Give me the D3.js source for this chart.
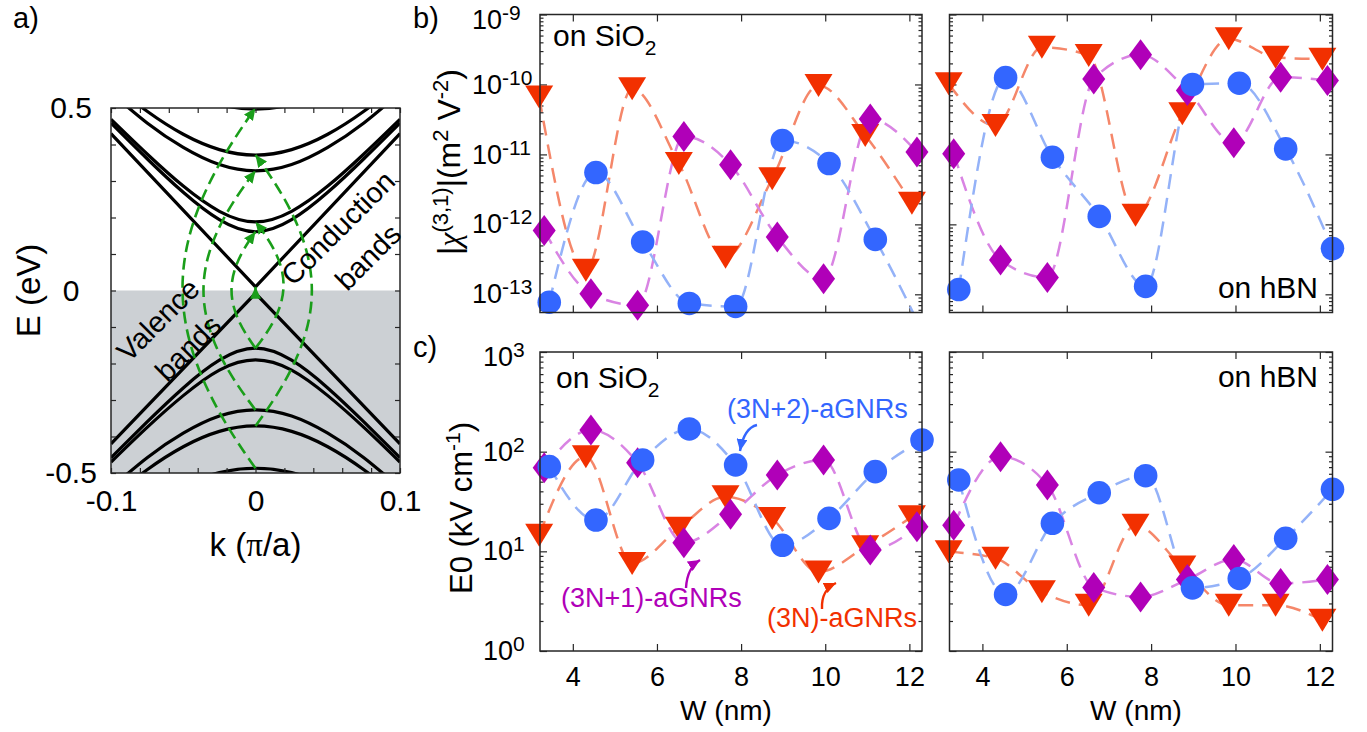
<!DOCTYPE html>
<html>
<head>
<meta charset="utf-8">
<script src="https://cdn.jsdelivr.net/npm/d3@7"></script>
<style>
  body { margin: 0; background: #fff; }
  svg { display: block; font-family: "Liberation Sans", Arial, sans-serif; }
</style>
</head>
<body>
<svg id="fig" width="1367" height="732"></svg>
<script>
// ---- panel a: band structure ----
const kSamples = [-0.1, -0.075, -0.05, -0.025, 0, 0.025, 0.05, 0.075, 0.1]
const diracK = [-0.1, 0, 0.1]
const diracCond = [0.43, 0.01, 0.43]
const diracVal = [-0.42, -0.008, -0.42]
const condBands = [
  [0.459, 0.361, 0.269, 0.194, 0.161, 0.194, 0.269, 0.361, 0.459],
  [0.469, 0.374, 0.286, 0.217, 0.188, 0.217, 0.286, 0.374, 0.469],
  [0.542, 0.459, 0.392, 0.345, 0.328, 0.345, 0.392, 0.459, 0.542],
  [0.568, 0.491, 0.428, 0.386, 0.371, 0.386, 0.428, 0.491, 0.568],
  [0.657, 0.593, 0.542, 0.509, 0.497, 0.509, 0.542, 0.593, 0.657]
]
const valBands = [
  [-0.458, -0.360, -0.267, -0.191, -0.158, -0.191, -0.267, -0.360, -0.458],
  [-0.470, -0.375, -0.288, -0.218, -0.190, -0.218, -0.288, -0.375, -0.470],
  [-0.541, -0.458, -0.391, -0.344, -0.327, -0.344, -0.391, -0.458, -0.541],
  [-0.568, -0.491, -0.428, -0.386, -0.371, -0.386, -0.428, -0.491, -0.568],
  [-0.650, -0.585, -0.533, -0.499, -0.487, -0.499, -0.533, -0.585, -0.650]
]
// optical transitions at k = 0 : from valence max to conduction min
const transFrom = [-0.487, -0.327, -0.158, -0.371, -0.158, -0.008]
const transTo = [0.5, 0.328, 0.161, 0.371, 0.188, 0.01]
const transSide = [-1, -1, -1, 1, 1, 0]
const transWidth = [0.0505, 0.036, 0.0166, 0.039, 0.0194, 0]
const kTicks = [-0.1, -0.08, -0.06, -0.04, -0.02, 0, 0.02, 0.04, 0.06, 0.08, 0.1]
const kLabels = ['-0.1', '0', '0.1']
const eTicks = [-0.5, -0.4, -0.3, -0.2, -0.1, 0, 0.1, 0.2, 0.3, 0.4, 0.5]
const eLabels = ['-0.5', '0', '0.5']

// ---- panels b, c: ribbon widths (nm) ----
const W3N = [3.20, 4.31, 5.41, 6.52, 7.63, 8.74, 9.84, 10.95, 12.06]
const W3N1 = [3.32, 4.43, 5.54, 6.64, 7.75, 8.86, 9.96, 11.07, 12.18]
const W3N2 = [3.44, 4.55, 5.66, 6.77, 7.87, 8.98, 10.09, 11.19, 12.30]
const wTicks = [4, 6, 8, 10, 12]

// |chi(3,1)| (m^2 V^-2)
const chiSiO2_3N = [6.6e-11, 2.2e-13, 8.7e-11, 7.4e-12, 3.4e-13, 4.5e-12, 9.7e-11, 1.87e-11, 2.0e-12]
const chiSiO2_3N1 = [8.2e-13, 1.02e-13, 7.0e-14, 1.81e-11, 7.1e-12, 6.6e-13, 1.67e-13, 3.2e-11, 1.08e-11]
const chiSiO2_3N2 = [7.7e-14, 5.5e-12, 5.6e-13, 7.4e-14, 6.7e-14, 1.58e-11, 7.4e-12, 6.1e-13, 3.0e-14]
const chiHBN_3N = [1.02e-10, 2.6e-11, 3.4e-10, 2.6e-10, 1.35e-12, 3.8e-11, 4.5e-10, 2.45e-10, 2.3e-10]
const chiHBN_3N1 = [1.02e-11, 3.1e-13, 1.74e-13, 1.2e-10, 2.65e-10, 8.2e-11, 1.47e-11, 1.27e-10, 1.14e-10]
const chiHBN_3N2 = [1.17e-13, 1.25e-10, 9.1e-12, 1.3e-12, 1.3e-13, 1.0e-10, 1.04e-10, 1.2e-11, 4.5e-13]

// E0 (kV cm^-1)
const e0SiO2_3N = [14.5, 89, 7.56, 17, 35.3, 21.4, 6.2, 11.1, 22.2]
const e0SiO2_3N1 = [69, 165, 77.5, 12.2, 23.5, 58.3, 82.6, 10.3, 17.6]
const e0SiO2_3N2 = [70.7, 20.6, 82.6, 169, 73.5, 11.5, 21.4, 63, 131]
const e0HBN_3N = [9.9, 8.5, 3.92, 2.88, 18.3, 6.98, 2.88, 2.88, 2.03]
const e0HBN_3N1 = [18.3, 89, 46.3, 4.34, 3.49, 5.22, 8.3, 4.76, 5.22]
const e0HBN_3N2 = [52, 3.69, 19.1, 38.7, 57.4, 4.3, 5.34, 13.5, 41.9]

// ---- styles ----
const ink = '#262626'
const green = '#1a9e1a'
const fam = [
  { key: '3N', w: W3N, mark: '#f23000', line: '#f5876a', shape: 'tri' },
  { key: '3N1', w: W3N1, mark: '#b000b8', line: '#d984e3', shape: 'dia' },
  { key: '3N2', w: W3N2, mark: '#3366ff', line: '#94b2f8', shape: 'circ' }
]

const svg = d3.select('#fig')
const defs = svg.append('defs')

function arrowMarker (id, color, len, wid) {
  defs.append('marker')
    .attr('id', id)
    .attr('markerUnits', 'userSpaceOnUse')
    .attr('viewBox', `0 0 ${len} ${wid}`)
    .attr('refX', len).attr('refY', wid / 2)
    .attr('markerWidth', len).attr('markerHeight', wid)
    .attr('orient', 'auto')
    .append('path')
    .attr('d', `M0,0 L${len},${wid / 2} L0,${wid} Z`)
    .attr('fill', color)
}
arrowMarker('ag', green, 12, 11)
arrowMarker('ab', '#3366ff', 12, 11)
arrowMarker('am', '#b000b8', 12, 11)
arrowMarker('ar', '#f23000', 12, 11)

function styleAxis (sel, fs) {
  sel.select('.domain').remove()
  sel.selectAll('.tick line').attr('stroke', ink).attr('stroke-width', 1.2)
  sel.selectAll('.tick text').attr('fill', '#000').attr('font-size', fs)
    .attr('font-family', '"Liberation Sans", Arial, sans-serif')
}

function clipRect (id, x, y) {
  defs.append('clipPath').attr('id', id).append('rect')
    .attr('x', x.range()[0]).attr('y', y.range()[1])
    .attr('width', x.range()[1] - x.range()[0])
    .attr('height', y.range()[0] - y.range()[1])
}

function frame (g, x, y) {
  g.append('rect')
    .attr('x', x.range()[0]).attr('y', y.range()[1])
    .attr('width', x.range()[1] - x.range()[0])
    .attr('height', y.range()[0] - y.range()[1])
    .attr('fill', 'none').attr('stroke', ink).attr('stroke-width', 1.5)
}

const labelOf = (list) => d => list.find(s => Math.abs(+s - d) < 1e-9) || ''

/**
 * Panel a
 */
{
  const x = d3.scaleLinear().domain([-0.1, 0.1]).range([111, 400])
  const y = d3.scaleLinear().domain([-0.5, 0.5]).range([473, 108])
  const g = svg.append('g')
  clipRect('clipA', x, y)
  const body = g.append('g').attr('clip-path', 'url(#clipA)')

  body.append('rect')
    .attr('x', x(-0.1)).attr('y', y(0))
    .attr('width', x(0.1) - x(-0.1)).attr('height', y(-0.5) - y(0))
    .attr('fill', '#ccd0d4')

  const smooth = d3.line().x((d, i) => x(kSamples[i])).y(d => y(d)).curve(d3.curveNatural)
  const straight = d3.line().x((d, i) => x(diracK[i])).y(d => y(d))
  condBands.concat(valBands).forEach(b => {
    body.append('path').attr('d', smooth(b))
      .attr('fill', 'none').attr('stroke', '#000').attr('stroke-width', 3.2)
  })
  ;[diracCond, diracVal].forEach(b => {
    body.append('path').attr('d', straight(b))
      .attr('fill', 'none').attr('stroke', '#000').attr('stroke-width', 3.2)
  })

  transFrom.forEach((e1, i) => {
    const x0 = x(0)
    const yb = y(e1)
    const yt = y(transTo[i])
    const c = (4 / 3) * (x(transWidth[i]) - x(0)) * transSide[i]
    const kk = 0.75 * (yb - yt) / 2
    const p = d3.path()
    p.moveTo(x0, yb)
    p.bezierCurveTo(x0 + c, yb - kk, x0 + c, yt + kk, x0, yt)
    body.append('path').attr('d', p.toString())
      .attr('fill', 'none').attr('stroke', green).attr('stroke-width', 2.6)
      .attr('stroke-dasharray', transSide[i] === 0 ? null : '12,6')
      .attr('marker-end', 'url(#ag)')
  })

  const ax = g.append('g').attr('transform', `translate(0,${y(-0.5)})`)
    .call(d3.axisBottom(x).tickValues(kTicks).tickSize(-5).tickSizeOuter(0)
      .tickPadding(17).tickFormat(labelOf(kLabels)))
  styleAxis(ax, 30)
  const axT = g.append('g').attr('transform', `translate(0,${y(0.5)})`)
    .call(d3.axisTop(x).tickValues(kTicks).tickSize(-5).tickSizeOuter(0).tickFormat(''))
  styleAxis(axT, 30)
  const ay = g.append('g').attr('transform', `translate(${x(-0.1)},0)`)
    .call(d3.axisLeft(y).tickValues(eTicks).tickSize(-5).tickSizeOuter(0)
      .tickPadding(40).tickFormat(labelOf(eLabels)))
  styleAxis(ay, 30)
  ay.selectAll('.tick text').attr('text-anchor', 'middle')
  const ayR = g.append('g').attr('transform', `translate(${x(0.1)},0)`)
    .call(d3.axisRight(y).tickValues(eTicks).tickSize(-5).tickSizeOuter(0).tickFormat(''))
  styleAxis(ayR, 30)
  frame(g, x, y)

  const kl = g.append('text').attr('x', x(0)).attr('y', 556)
    .attr('text-anchor', 'middle').attr('font-size', 33)
  kl.append('tspan').text('k (')
  kl.append('tspan').attr('font-family', '"Liberation Serif", serif').text('π')
  kl.append('tspan').text('/a)')
  g.append('text').attr('transform', `translate(40,${y(0)}) rotate(-90)`)
    .attr('text-anchor', 'middle').attr('font-size', 33).text('E (eV)')

  const rot = (t, cx, cy) => g.append('text')
    .attr('transform', `translate(${cx},${cy}) rotate(-45)`)
    .attr('text-anchor', 'middle').attr('dominant-baseline', 'central')
    .attr('font-size', 29).text(t)
  rot('Conduction', 338, 228)
  rot('bands', 368, 257)
  rot('Valence', 158, 320)
  rot('bands', 188, 348)

  g.append('text').attr('x', 13).attr('y', 28).attr('font-size', 29).text('a)')
}

/**
 * Panels b and c
 */
function logPanel ({ id, xr, yr, ydom, series, labelX, showYLabels, xLabels }) {
  const x = d3.scaleLinear().domain([3.22, 12.3]).range(xr)
  const y = d3.scaleLog().domain(ydom).range(yr)
  const g = svg.append('g')
  clipRect(id, x, y)

  const all = y.ticks()
  const majors = all.filter(d => Math.abs(Math.log10(d) - Math.round(Math.log10(d))) < 1e-6)
  const minors = all.filter(d => !majors.includes(d))
  const topMajor = d3.max(majors)

  const left = g.append('g').attr('transform', `translate(${xr[0]},0)`)
    .call(d3.axisLeft(y).tickValues(majors).tickSize(-7).tickSizeOuter(0)
      .tickFormat(showYLabels ? () => '10' : ''))
  styleAxis(left, 27)
  if (showYLabels) {
    left.selectAll('.tick text')
      .attr('text-anchor', 'start').attr('x', labelX - xr[0])
      .attr('dy', d => d === topMajor ? '0.5em' : '0.32em')
      .each(function (d) {
        d3.select(this).append('tspan').attr('dy', -9).attr('font-size', 21)
          .text(String(Math.round(Math.log10(d))))
      })
  }
  const leftMinor = g.append('g').attr('transform', `translate(${xr[0]},0)`)
    .call(d3.axisLeft(y).tickValues(minors).tickSize(-3.5).tickSizeOuter(0).tickFormat(''))
  styleAxis(leftMinor, 10)
  const right = g.append('g').attr('transform', `translate(${xr[1]},0)`)
    .call(d3.axisRight(y).tickValues(majors).tickSize(-7).tickSizeOuter(0).tickFormat(''))
  styleAxis(right, 10)
  const rightMinor = g.append('g').attr('transform', `translate(${xr[1]},0)`)
    .call(d3.axisRight(y).tickValues(minors).tickSize(-3.5).tickSizeOuter(0).tickFormat(''))
  styleAxis(rightMinor, 10)
  const bottom = g.append('g').attr('transform', `translate(0,${yr[0]})`)
    .call(d3.axisBottom(x).tickValues(wTicks).tickSize(-7).tickSizeOuter(0)
      .tickPadding(16).tickFormat(xLabels ? d3.format('d') : ''))
  styleAxis(bottom, 27)
  const top = g.append('g').attr('transform', `translate(0,${yr[1]})`)
    .call(d3.axisTop(x).tickValues(wTicks).tickSize(-7).tickSizeOuter(0).tickFormat(''))
  styleAxis(top, 10)

  const body = g.append('g').attr('clip-path', `url(#${id})`)
  const curve = d3.line().x(d => x(d.w)).y(d => y(d.v)).curve(d3.curveMonotoneX)
  series.forEach((vals, i) => {
    const f = fam[i]
    const pts = vals.map((v, j) => ({ w: f.w[j], v }))
    body.append('path').datum(pts).attr('d', curve)
      .attr('fill', 'none').attr('stroke', f.line).attr('stroke-width', 2.5)
      .attr('stroke-dasharray', '15,9')
  })
  const [lo, hi] = ydom
  series.forEach((vals, i) => {
    const f = fam[i]
    const pts = vals.map((v, j) => ({ w: f.w[j], v })).filter(d => d.v >= lo && d.v <= hi)
    const sel = g.append('g').selectAll('.m').data(pts).enter()
    if (f.shape === 'circ') {
      sel.append('circle').attr('cx', d => x(d.w)).attr('cy', d => y(d.v))
        .attr('r', 11.8).attr('fill', f.mark)
    } else if (f.shape === 'tri') {
      sel.append('path').attr('transform', d => `translate(${x(d.w)},${y(d.v)})`)
        .attr('d', 'M-14,-11.5 L14,-11.5 L0,11.5 Z').attr('fill', f.mark)
    } else {
      sel.append('path').attr('transform', d => `translate(${x(d.w)},${y(d.v)})`)
        .attr('d', 'M0,-15.5 L11.5,0 L0,15.5 L-11.5,0 Z').attr('fill', f.mark)
    }
  })
  frame(g, x, y)
  return { g, x, y }
}

logPanel({
  id: 'clipBL', xr: [540, 922], yr: [312.5, 14.5], ydom: [Math.pow(10, -13.26), 1e-9],
  series: [chiSiO2_3N, chiSiO2_3N1, chiSiO2_3N2], labelX: 472, showYLabels: true, xLabels: false
})
logPanel({
  id: 'clipBR', xr: [949.5, 1332.5], yr: [312.5, 14.5], ydom: [Math.pow(10, -13.26), 1e-9],
  series: [chiHBN_3N, chiHBN_3N1, chiHBN_3N2], labelX: 0, showYLabels: false, xLabels: false
})
logPanel({
  id: 'clipCL', xr: [540, 922], yr: [651, 352], ydom: [1, 1000],
  series: [e0SiO2_3N, e0SiO2_3N1, e0SiO2_3N2], labelX: 483, showYLabels: true, xLabels: true
})
logPanel({
  id: 'clipCR', xr: [949.5, 1332.5], yr: [651, 352], ydom: [1, 1000],
  series: [e0HBN_3N, e0HBN_3N1, e0HBN_3N2], labelX: 0, showYLabels: false, xLabels: true
})

// labels
function onLabel (x, y, anchor, main, sub) {
  const t = svg.append('text').attr('x', x).attr('y', y).attr('text-anchor', anchor).attr('font-size', 30)
  t.append('tspan').text(main)
  if (sub) t.append('tspan').attr('dy', 9).attr('font-size', 21).text(sub)
}
onLabel(553, 46, 'start', 'on SiO', '2')
onLabel(556, 388, 'start', 'on SiO', '2')
onLabel(1318, 298, 'end', 'on hBN')
onLabel(1318, 387, 'end', 'on hBN')

svg.append('text').attr('x', 413).attr('y', 28).attr('font-size', 29).text('b)')
svg.append('text').attr('x', 413).attr('y', 357).attr('font-size', 29).text('c)')

;[726, 1136].forEach(cx => {
  svg.append('text').attr('x', cx).attr('y', 720).attr('text-anchor', 'middle')
    .attr('font-size', 28).text('W (nm)')
})

// y label b
{
  const t = svg.append('text').attr('transform', 'translate(460,162) rotate(-90)')
    .attr('text-anchor', 'middle').attr('font-size', 32)
  t.append('tspan').text('|')
  t.append('tspan').attr('font-family', '"Liberation Serif", serif').attr('font-style', 'italic').text('χ')
  t.append('tspan').attr('dy', -12).attr('font-size', 22).text('(3,1)')
  t.append('tspan').attr('dy', 12).text('|(m')
  t.append('tspan').attr('dy', -12).attr('font-size', 22).text('2')
  t.append('tspan').attr('dy', 12).text(' V')
  t.append('tspan').attr('dy', -12).attr('font-size', 22).text('-2')
  t.append('tspan').attr('dy', 12).text(')')
}
// y label c
{
  const t = svg.append('text').attr('transform', 'translate(472,508) rotate(-90)')
    .attr('text-anchor', 'middle').attr('font-size', 31)
  t.append('tspan').text('E0 (kV cm')
  t.append('tspan').attr('dy', -12).attr('font-size', 21).text('-1')
  t.append('tspan').attr('dy', 12).text(')')
}

// family annotations in panel c (left)
const annoText = [
  { t: '(3N+2)-aGNRs', x: 727, y: 418, c: '#3366ff' },
  { t: '(3N+1)-aGNRs', x: 561, y: 607, c: '#b000b8' },
  { t: '(3N)-aGNRs', x: 767, y: 627, c: '#f23000' }
]
annoText.forEach(a => {
  svg.append('text').attr('x', a.x).attr('y', a.y).attr('font-size', 27)
    .attr('fill', a.c).text(a.t)
})
const annoArrows = [
  { d: 'M757,425 Q744,428 740,451', m: 'ab', c: '#3366ff' },
  { d: 'M686,588 Q687,568 700,560', m: 'am', c: '#b000b8' },
  { d: 'M822,609 Q821,590 836,583', m: 'ar', c: '#f23000' }
]
annoArrows.forEach(a => {
  svg.append('path').attr('d', a.d).attr('fill', 'none')
    .attr('stroke', a.c).attr('stroke-width', 2.4).attr('marker-end', `url(#${a.m})`)
})
</script>
</body>
</html>
